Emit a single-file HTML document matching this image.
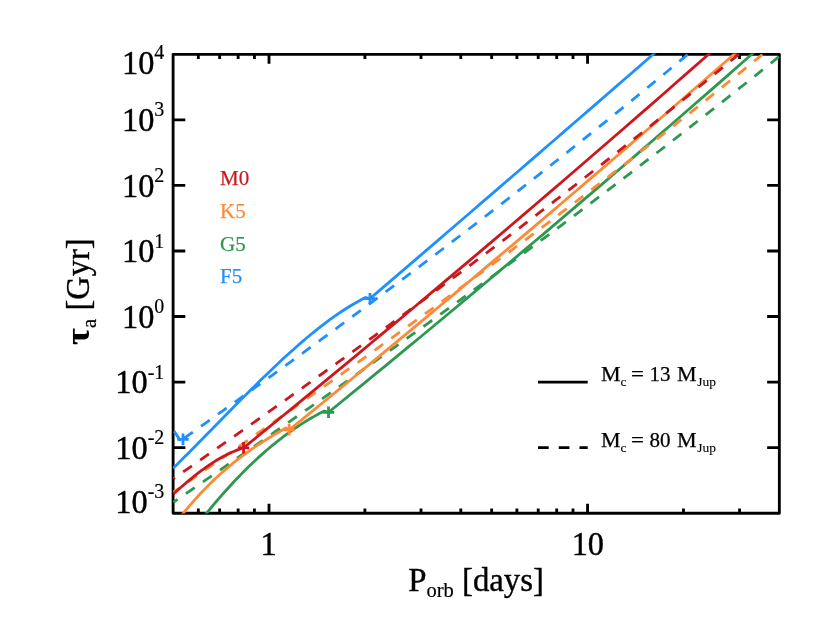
<!DOCTYPE html>
<html><head><meta charset="utf-8"><title>tau_a vs P_orb</title>
<style>html,body{margin:0;padding:0;background:#fff}body{width:830px;height:623px;overflow:hidden}svg{will-change:transform}</style>
</head><body>
<svg width="830" height="623" viewBox="0 0 830 623" style="display:block;font-family:'Liberation Serif',serif">
<rect width="830" height="623" fill="#fff"/>
<defs><clipPath id="c"><rect x="172.79999999999998" y="53.599999999999994" width="606.85" height="460.00000000000006"/></clipPath></defs>
<g stroke="#000" stroke-width="2.85" fill="none" stroke-linecap="butt">
<rect x="173.1" y="54.3" width="606.25" height="458.90000000000003" stroke-linejoin="round"/>
<path d="M198.33 54.3v4.6M198.33 513.2v-4.6M219.65 54.3v4.6M219.65 513.2v-4.6M238.13 54.3v4.6M238.13 513.2v-4.6M254.42 54.3v4.6M254.42 513.2v-4.6M364.90 54.3v4.6M364.90 513.2v-4.6M420.99 54.3v4.6M420.99 513.2v-4.6M460.79 54.3v4.6M460.79 513.2v-4.6M491.66 54.3v4.6M491.66 513.2v-4.6M516.89 54.3v4.6M516.89 513.2v-4.6M538.21 54.3v4.6M538.21 513.2v-4.6M556.69 54.3v4.6M556.69 513.2v-4.6M572.98 54.3v4.6M572.98 513.2v-4.6M683.46 54.3v4.6M683.46 513.2v-4.6M739.55 54.3v4.6M739.55 513.2v-4.6M269.00 54.3v9.4M269.00 513.2v-9.4M587.56 54.3v9.4M587.56 513.2v-9.4M173.1 447.64h12.2M779.35 447.64h-12.2M173.1 382.09h12.2M779.35 382.09h-12.2M173.1 316.53h12.2M779.35 316.53h-12.2M173.1 250.97h12.2M779.35 250.97h-12.2M173.1 185.41h12.2M779.35 185.41h-12.2M173.1 119.86h12.2M779.35 119.86h-12.2"/>
</g>
<g clip-path="url(#c)" fill="none" stroke-width="2.8" stroke-linejoin="round" stroke-linecap="butt">
<path d="M183.00 439.05 L189.80 434.23 L196.59 429.40 L203.39 424.57 L210.19 419.73 L216.99 414.88 L223.78 410.03 L230.58 405.16 L237.38 400.29 L244.18 395.42 L250.97 390.53 L257.77 385.64 L264.57 380.73 L271.37 375.82 L278.16 370.90 L284.96 365.98 L291.76 361.04 L298.56 356.09 L305.35 351.14 L312.15 346.18 L318.95 341.20 L325.75 336.22 L332.54 331.23 L339.34 326.23 L346.14 321.22 L352.94 316.20 L359.73 311.17 L366.53 306.13 L373.33 301.08 L380.13 296.02 L386.92 290.95 L393.72 285.87 L400.52 280.78 L407.32 275.68 L414.11 270.57 L420.91 265.44 L427.71 260.31 L434.51 255.16 L441.30 250.00 L448.10 244.84 L454.90 239.66 L461.70 234.46 L468.49 229.26 L475.29 224.05 L482.09 218.82 L488.89 213.58 L495.68 208.33 L502.48 203.06 L509.28 197.79 L516.08 192.50 L522.87 187.20 L529.67 181.88 L536.47 176.56 L543.27 171.22 L550.06 165.86 L556.86 160.50 L563.66 155.12 L570.46 149.72 L577.25 144.32 L584.05 138.89 L590.85 133.46 L597.65 128.01 L604.44 122.55 L611.24 117.07 L618.04 111.58 L624.84 106.07 L631.63 100.55 L638.43 95.02 L645.23 89.47 L652.03 83.90 L658.82 78.32 L665.62 72.73 L672.42 67.12 L679.22 61.49 L686.01 55.85 L692.81 50.19 L699.61 44.52 L706.41 38.83 L713.20 33.13 L720.00 27.41" stroke="#1e90ff" stroke-dasharray="10.7 10.05" stroke-dashoffset="19.4"/>
<path d="M174.20 431.20 L179.60 439.60 L181.00 440.40" stroke="#1e90ff"/>
<path d="M173.10 468.31 L177.03 464.42 L180.95 460.51 L184.88 456.58 L188.81 452.64 L192.73 448.68 L196.66 444.71 L200.59 440.73 L204.51 436.74 L208.44 432.74 L212.37 428.74 L216.29 424.74 L220.22 420.74 L224.14 416.74 L228.07 412.75 L232.00 408.76 L235.92 404.79 L239.85 400.83 L243.78 396.88 L247.70 392.95 L251.63 389.04 L255.56 385.16 L259.48 381.30 L263.41 377.47 L267.34 373.67 L271.26 369.90 L275.19 366.17 L279.12 362.48 L283.04 358.84 L286.97 355.23 L290.90 351.68 L294.82 348.18 L298.75 344.73 L302.68 341.34 L306.60 338.01 L310.53 334.74 L314.46 331.54 L318.38 328.41 L322.31 325.35 L326.23 322.37 L330.16 319.47 L334.09 316.65 L338.01 313.92 L341.94 311.28 L345.87 308.73 L349.79 306.28 L353.72 303.93 L357.65 301.68 L361.57 299.55 L365.50 297.52 L370.00 298.60 L370.00 298.60 L378.46 291.38 L386.92 284.13 L395.38 276.88 L403.85 269.63 L412.31 262.37 L420.77 255.11 L429.23 247.84 L437.69 240.57 L446.15 233.30 L454.62 226.02 L463.08 218.74 L471.54 211.46 L480.00 204.17 L488.46 196.89 L496.92 189.59 L505.38 182.30 L513.85 175.00 L522.31 167.69 L530.77 160.39 L539.23 153.08 L547.69 145.77 L556.15 138.45 L564.62 131.13 L573.08 123.81 L581.54 116.48 L590.00 109.15 L598.46 101.82 L606.92 94.48 L615.38 87.14 L623.85 79.80 L632.31 72.45 L640.77 65.10 L649.23 57.75 L657.69 50.39 L666.15 43.03 L674.62 35.66 L683.08 28.30 L691.54 20.93 L700.00 13.55" stroke="#1e90ff"/>
<path d="M173.40 502.26 L181.33 496.80 L189.26 491.33 L197.19 485.86 L205.13 480.38 L213.06 474.90 L220.99 469.41 L228.92 463.91 L236.85 458.40 L244.78 452.89 L252.72 447.37 L260.65 441.85 L268.58 436.31 L276.51 430.77 L284.44 425.22 L292.37 419.66 L300.31 414.10 L308.24 408.52 L316.17 402.94 L324.10 397.35 L332.03 391.75 L339.96 386.14 L347.90 380.52 L355.83 374.90 L363.76 369.26 L371.69 363.61 L379.62 357.96 L387.55 352.29 L395.49 346.61 L403.42 340.93 L411.35 335.23 L419.28 329.52 L427.21 323.80 L435.14 318.07 L443.08 312.33 L451.01 306.58 L458.94 300.82 L466.87 295.04 L474.80 289.25 L482.73 283.45 L490.67 277.64 L498.60 271.82 L506.53 265.98 L514.46 260.13 L522.39 254.27 L530.32 248.40 L538.26 242.51 L546.19 236.61 L554.12 230.69 L562.05 224.76 L569.98 218.82 L577.91 212.87 L585.85 206.90 L593.78 200.91 L601.71 194.91 L609.64 188.90 L617.57 182.87 L625.50 176.83 L633.44 170.77 L641.37 164.69 L649.30 158.61 L657.23 152.50 L665.16 146.38 L673.09 140.24 L681.03 134.09 L688.96 127.92 L696.89 121.73 L704.82 115.53 L712.75 109.31 L720.68 103.08 L728.62 96.82 L736.55 90.55 L744.48 84.27 L752.41 77.96 L760.34 71.64 L768.27 65.30 L776.21 58.94 L784.14 52.56 L792.07 46.16 L800.00 39.75" stroke="#2e984f" stroke-dasharray="10.7 10.05" stroke-dashoffset="5.6"/>
<path d="M201.00 520.20 L203.52 517.03 L206.03 513.89 L208.55 510.79 L211.07 507.74 L213.58 504.72 L216.10 501.74 L218.61 498.80 L221.13 495.90 L223.65 493.04 L226.16 490.22 L228.68 487.44 L231.20 484.70 L233.71 481.99 L236.23 479.33 L238.74 476.71 L241.26 474.12 L243.78 471.58 L246.29 469.07 L248.81 466.61 L251.33 464.18 L253.84 461.80 L256.36 459.45 L258.88 457.14 L261.39 454.87 L263.91 452.64 L266.42 450.45 L268.94 448.30 L271.46 446.19 L273.97 444.12 L276.49 442.09 L279.01 440.10 L281.52 438.14 L284.04 436.23 L286.56 434.35 L289.07 432.52 L291.59 430.72 L294.10 428.97 L296.62 427.25 L299.14 425.58 L301.65 423.94 L304.17 422.34 L306.69 420.78 L309.20 419.26 L311.72 417.78 L314.23 416.34 L316.75 414.94 L319.27 413.58 L321.78 412.26 L324.30 410.98 L328.50 412.30 L328.50 412.30 L339.95 403.02 L351.40 393.68 L362.85 384.32 L374.29 374.94 L385.74 365.55 L397.19 356.13 L408.64 346.69 L420.09 337.23 L431.54 327.75 L442.99 318.25 L454.44 308.73 L465.88 299.19 L477.33 289.63 L488.78 280.04 L500.23 270.44 L511.68 260.82 L523.13 251.17 L534.58 241.51 L546.03 231.83 L557.47 222.12 L568.92 212.40 L580.37 202.65 L591.82 192.88 L603.27 183.10 L614.72 173.29 L626.17 163.46 L637.62 153.61 L649.06 143.74 L660.51 133.85 L671.96 123.94 L683.41 114.01 L694.86 104.06 L706.31 94.09 L717.76 84.10 L729.21 74.09 L740.65 64.06 L752.10 54.00 L763.55 43.93 L775.00 33.84" stroke="#2e984f"/>
<path d="M173.40 492.17 L181.21 486.75 L189.01 481.32 L196.82 475.89 L204.62 470.46 L212.43 465.01 L220.23 459.57 L228.04 454.11 L235.84 448.65 L243.65 443.19 L251.45 437.72 L259.26 432.24 L267.06 426.75 L274.87 421.26 L282.67 415.76 L290.48 410.25 L298.28 404.73 L306.09 399.21 L313.89 393.68 L321.70 388.14 L329.50 382.59 L337.31 377.03 L345.11 371.46 L352.92 365.88 L360.72 360.30 L368.53 354.70 L376.33 349.10 L384.14 343.48 L391.94 337.85 L399.75 332.21 L407.55 326.56 L415.36 320.90 L423.16 315.23 L430.97 309.55 L438.77 303.85 L446.58 298.15 L454.38 292.43 L462.19 286.70 L469.99 280.95 L477.80 275.19 L485.60 269.42 L493.41 263.64 L501.21 257.84 L509.02 252.03 L516.82 246.20 L524.63 240.36 L532.43 234.51 L540.24 228.64 L548.04 222.76 L555.85 216.86 L563.65 210.94 L571.46 205.01 L579.26 199.06 L587.07 193.10 L594.87 187.12 L602.68 181.13 L610.48 175.12 L618.29 169.09 L626.09 163.04 L633.90 156.98 L641.70 150.90 L649.51 144.80 L657.31 138.68 L665.12 132.54 L672.92 126.39 L680.73 120.22 L688.53 114.03 L696.34 107.82 L704.14 101.58 L711.95 95.33 L719.75 89.06 L727.56 82.77 L735.36 76.46 L743.17 70.13 L750.97 63.78 L758.78 57.41 L766.58 51.02 L774.39 44.60 L782.19 38.16 L790.00 31.71" stroke="#fd8a38" stroke-dasharray="10.7 10.05" stroke-dashoffset="3.0"/>
<path d="M178.00 520.04 L180.20 517.21 L182.40 514.44 L184.61 511.71 L186.81 509.04 L189.01 506.42 L191.21 503.84 L193.41 501.32 L195.62 498.84 L197.82 496.41 L200.02 494.02 L202.22 491.69 L204.42 489.39 L206.63 487.14 L208.83 484.93 L211.03 482.76 L213.23 480.63 L215.43 478.55 L217.64 476.50 L219.84 474.49 L222.04 472.52 L224.24 470.59 L226.44 468.69 L228.65 466.83 L230.85 465.00 L233.05 463.20 L235.25 461.44 L237.46 459.71 L239.66 458.01 L241.86 456.34 L244.06 454.70 L246.26 453.09 L248.47 451.51 L250.67 449.95 L252.87 448.42 L255.07 446.91 L257.27 445.43 L259.48 443.97 L261.68 442.54 L263.88 441.12 L266.08 439.73 L268.28 438.36 L270.49 437.00 L272.69 435.67 L274.89 434.35 L277.09 433.05 L279.29 431.77 L281.50 430.50 L283.70 429.24 L285.90 428.00 L289.20 429.80 L289.20 429.80 L301.27 420.22 L313.34 410.37 L325.42 400.51 L337.49 390.62 L349.56 380.71 L361.63 370.79 L373.70 360.84 L385.77 350.87 L397.85 340.87 L409.92 330.86 L421.99 320.83 L434.06 310.78 L446.13 300.70 L458.21 290.60 L470.28 280.49 L482.35 270.35 L494.42 260.19 L506.49 250.01 L518.56 239.81 L530.64 229.59 L542.71 219.35 L554.78 209.09 L566.85 198.80 L578.92 188.50 L590.99 178.17 L603.07 167.83 L615.14 157.46 L627.21 147.07 L639.28 136.66 L651.35 126.23 L663.43 115.78 L675.50 105.31 L687.57 94.81 L699.64 84.30 L711.71 73.77 L723.78 63.21 L735.86 52.63 L747.93 42.04 L760.00 31.42" stroke="#fd8a38"/>
<path d="M173.40 478.73 L180.89 473.52 L188.38 468.31 L195.87 463.09 L203.35 457.86 L210.84 452.62 L218.33 447.37 L225.82 442.12 L233.31 436.86 L240.80 431.59 L248.29 426.31 L255.77 421.02 L263.26 415.72 L270.75 410.41 L278.24 405.09 L285.73 399.77 L293.22 394.43 L300.71 389.08 L308.19 383.73 L315.68 378.36 L323.17 372.99 L330.66 367.60 L338.15 362.20 L345.64 356.79 L353.13 351.38 L360.62 345.95 L368.10 340.51 L375.59 335.05 L383.08 329.59 L390.57 324.12 L398.06 318.63 L405.55 313.13 L413.04 307.62 L420.52 302.10 L428.01 296.57 L435.50 291.02 L442.99 285.46 L450.48 279.89 L457.97 274.30 L465.46 268.70 L472.94 263.09 L480.43 257.47 L487.92 251.83 L495.41 246.18 L502.90 240.52 L510.39 234.84 L517.88 229.15 L525.36 223.44 L532.85 217.72 L540.34 211.98 L547.83 206.23 L555.32 200.47 L562.81 194.69 L570.30 188.90 L577.78 183.09 L585.27 177.26 L592.76 171.42 L600.25 165.57 L607.74 159.70 L615.23 153.81 L622.72 147.91 L630.21 141.99 L637.69 136.05 L645.18 130.10 L652.67 124.13 L660.16 118.15 L667.65 112.15 L675.14 106.13 L682.63 100.09 L690.11 94.04 L697.60 87.97 L705.09 81.88 L712.58 75.77 L720.07 69.65 L727.56 63.51 L735.05 57.35 L742.53 51.17 L750.02 44.98 L757.51 38.76 L765.00 32.53" stroke="#cb181d" stroke-dasharray="10.7 10.05" stroke-dashoffset="8.9"/>
<path d="M173.40 493.98 L174.70 492.81 L176.00 491.65 L177.29 490.49 L178.59 489.34 L179.89 488.20 L181.19 487.06 L182.49 485.94 L183.78 484.82 L185.08 483.71 L186.38 482.61 L187.68 481.52 L188.98 480.44 L190.27 479.36 L191.57 478.30 L192.87 477.25 L194.17 476.21 L195.47 475.19 L196.76 474.17 L198.06 473.17 L199.36 472.17 L200.66 471.19 L201.96 470.23 L203.25 469.27 L204.55 468.33 L205.85 467.41 L207.15 466.50 L208.44 465.60 L209.74 464.72 L211.04 463.85 L212.34 463.00 L213.64 462.16 L214.93 461.34 L216.23 460.54 L217.53 459.75 L218.83 458.98 L220.13 458.23 L221.42 457.49 L222.72 456.77 L224.02 456.08 L225.32 455.40 L226.62 454.73 L227.91 454.09 L229.21 453.47 L230.51 452.87 L231.81 452.28 L233.11 451.72 L234.40 451.18 L235.70 450.66 L237.00 450.16 L243.55 447.80 L243.55 447.80 L256.28 437.52 L269.01 427.14 L281.74 416.75 L294.47 406.32 L307.20 395.88 L319.93 385.41 L332.66 374.91 L345.39 364.40 L358.12 353.86 L370.84 343.29 L383.57 332.70 L396.30 322.09 L409.03 311.45 L421.76 300.79 L434.49 290.11 L447.22 279.40 L459.95 268.67 L472.68 257.91 L485.41 247.13 L498.14 236.33 L510.87 225.50 L523.60 214.65 L536.33 203.77 L549.06 192.87 L561.79 181.95 L574.52 171.00 L587.25 160.03 L599.98 149.04 L612.71 138.02 L625.43 126.98 L638.16 115.91 L650.89 104.82 L663.62 93.71 L676.35 82.57 L689.08 71.41 L701.81 60.22 L714.54 49.02 L727.27 37.78 L740.00 26.53" stroke="#cb181d"/>
</g>
<g fill="none" stroke-width="2.8" stroke-linecap="butt">
<path d="M177.30 439.30h11.4M183.00 433.60v11.4" stroke="#1e90ff"/>
<path d="M364.30 298.60h11.4M370.00 292.90v11.4" stroke="#1e90ff"/>
<path d="M322.80 412.30h11.4M328.50 406.60v11.4" stroke="#2e984f"/>
<path d="M283.50 429.80h11.4M289.20 424.10v11.4" stroke="#fd8a38"/>
<path d="M237.85 447.80h11.4M243.55 442.10v11.4" stroke="#cb181d"/>
</g>
<path d="M538.0 382.1H587.7" stroke="#000" stroke-width="2.8" fill="none"/>
<path d="M538.0 447.6H587.7" stroke="#000" stroke-width="2.8" fill="none" stroke-dasharray="10.7 10.05"/>
<text transform="translate(164.3 73.7) scale(0.975 1)" text-anchor="end" font-size="33.2" stroke="#000" stroke-width="0.45" stroke-linejoin="round">10<tspan font-size="20.5" dy="-14.8" stroke-width="0.2">4</tspan></text>
<text transform="translate(164.3 131.2) scale(0.975 1)" text-anchor="end" font-size="33.2" stroke="#000" stroke-width="0.45" stroke-linejoin="round">10<tspan font-size="20.5" dy="-14.8" stroke-width="0.2">3</tspan></text>
<text transform="translate(164.3 196.7) scale(0.975 1)" text-anchor="end" font-size="33.2" stroke="#000" stroke-width="0.45" stroke-linejoin="round">10<tspan font-size="20.5" dy="-14.8" stroke-width="0.2">2</tspan></text>
<text transform="translate(164.3 262.3) scale(0.975 1)" text-anchor="end" font-size="33.2" stroke="#000" stroke-width="0.45" stroke-linejoin="round">10<tspan font-size="20.5" dy="-14.8" stroke-width="0.2">1</tspan></text>
<text transform="translate(164.3 327.8) scale(0.975 1)" text-anchor="end" font-size="33.2" stroke="#000" stroke-width="0.45" stroke-linejoin="round">10<tspan font-size="20.5" dy="-14.8" stroke-width="0.2">0</tspan></text>
<text transform="translate(164.3 393.4) scale(0.975 1)" text-anchor="end" font-size="33.2" stroke="#000" stroke-width="0.45" stroke-linejoin="round">10<tspan font-size="20.5" dy="-14.8" stroke-width="0.2">-1</tspan></text>
<text transform="translate(164.3 458.9) scale(0.975 1)" text-anchor="end" font-size="33.2" stroke="#000" stroke-width="0.45" stroke-linejoin="round">10<tspan font-size="20.5" dy="-14.8" stroke-width="0.2">-2</tspan></text>
<text transform="translate(164.3 512.9) scale(0.975 1)" text-anchor="end" font-size="33.2" stroke="#000" stroke-width="0.45" stroke-linejoin="round">10<tspan font-size="20.5" dy="-14.8" stroke-width="0.2">-3</tspan></text>
<text transform="translate(268.5 555.2) scale(0.975 1)" text-anchor="middle" font-size="33.2" stroke="#000" stroke-width="0.45" stroke-linejoin="round">1</text>
<text transform="translate(587.8 555.2) scale(0.975 1)" text-anchor="middle" font-size="33.2" stroke="#000" stroke-width="0.45" stroke-linejoin="round">10</text>
<text x="476.1" y="590.5" text-anchor="middle" font-size="32.8" stroke="#000" stroke-width="0.35">P<tspan font-size="20.5" dy="6.2" stroke-width="0.2">orb</tspan><tspan dy="-6.2"> [days]</tspan></text>
<text transform="translate(89 345) rotate(-90)" font-size="32.8" stroke="#000" stroke-width="0.35"><tspan font-weight="bold" textLength="16.9" lengthAdjust="spacingAndGlyphs" stroke-width="0.1">τ</tspan><tspan font-size="20.5" dy="7" stroke-width="0.2">a</tspan><tspan dy="-7" dx="0.4" textLength="80.2" lengthAdjust="spacingAndGlyphs"> [Gyr]</tspan></text>
<text x="220" y="185.2" font-size="21" fill="#cb181d" stroke="#cb181d" stroke-width="0.25">M0</text>
<text x="220" y="217.9" font-size="21" fill="#fd8a38" stroke="#fd8a38" stroke-width="0.25">K5</text>
<text x="220" y="250.6" font-size="21" fill="#2e984f" stroke="#2e984f" stroke-width="0.25">G5</text>
<text x="220" y="283.3" font-size="21" fill="#1e90ff" stroke="#1e90ff" stroke-width="0.25">F5</text>
<text y="381.1" font-size="21" stroke="#000" stroke-width="0.25"><tspan x="601" textLength="19.6" lengthAdjust="spacingAndGlyphs">M</tspan><tspan x="620.6" y="386.4" font-size="13.5" stroke-width="0.1">c</tspan><tspan x="631.1" y="381.1" textLength="12.9" lengthAdjust="spacingAndGlyphs">=</tspan><tspan x="649.4">13</tspan><tspan x="677" textLength="19.6" lengthAdjust="spacingAndGlyphs">M</tspan><tspan x="697.3" y="386.4" font-size="13.5" stroke-width="0.1">Jup</tspan></text>
<text y="447.1" font-size="21" stroke="#000" stroke-width="0.25"><tspan x="601" textLength="19.6" lengthAdjust="spacingAndGlyphs">M</tspan><tspan x="620.6" y="452.4" font-size="13.5" stroke-width="0.1">c</tspan><tspan x="631.1" y="447.1" textLength="12.9" lengthAdjust="spacingAndGlyphs">=</tspan><tspan x="649.4">80</tspan><tspan x="677" textLength="19.6" lengthAdjust="spacingAndGlyphs">M</tspan><tspan x="697.3" y="452.4" font-size="13.5" stroke-width="0.1">Jup</tspan></text>
</svg>
</body></html>
